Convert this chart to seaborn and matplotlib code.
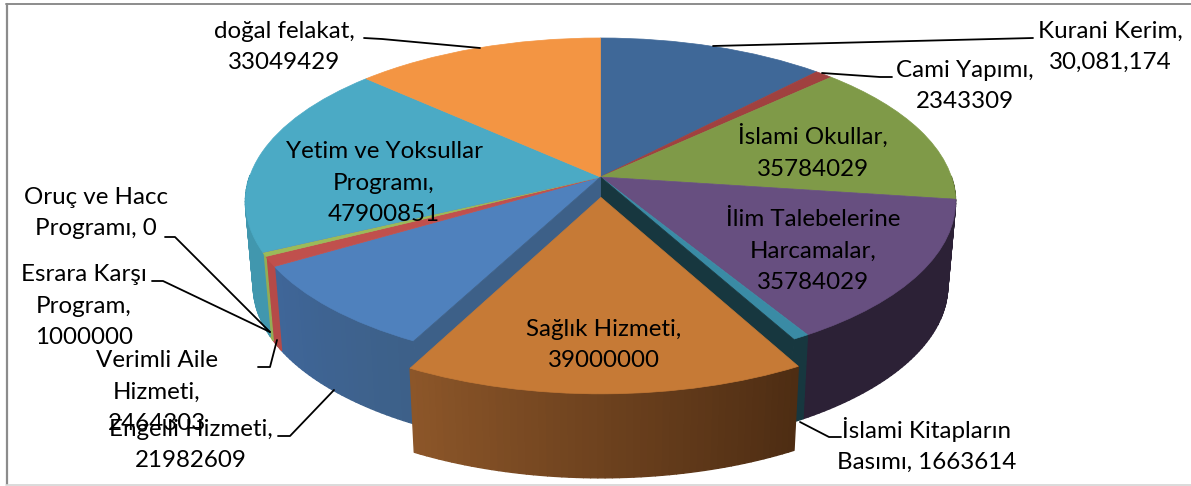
import numpy as np
import seaborn as sns
import matplotlib.pyplot as plt
from matplotlib.collections import PolyCollection
from matplotlib.transforms import Transform

categories = ['Kurani Kerim', 'Cami Yapımı', 'İslami Okullar', 'İlim Talebelerine Harcamalar',
              'İslami Kitapların Basımı', 'Sağlık Hizmeti', 'Engelli Hizmeti', 'Verimli Aile Hizmeti',
              'Esrara Karşı Program', 'Oruç ve Hacc Programı', 'Yetim ve Yoksullar Programı', 'doğal felakat']
values = [30081174, 2343309, 35784029, 35784029, 1663614, 39000000,
          21982609, 2464303, 1000000, 0, 47900851, 33049429]
value_labels = ['Kurani Kerim,\n30,081,174', 'Cami Yapımı,\n2343309', 'İslami Okullar,\n35784029',
                'İlim Talebelerine\nHarcamalar,\n35784029', 'İslami Kitapların\nBasımı, 1663614',
                'Sağlık Hizmeti,\n39000000', 'Engelli Hizmeti,\n21982609', 'Verimli Aile\nHizmeti,\n2464303',
                'Esrara Karşı\nProgram,\n1000000', 'Oruç ve Hacc\nProgramı, 0',
                'Yetim ve Yoksullar\nProgramı,\n47900851', 'doğal felakat,\n33049429']
exploded = [0, 0, 0, 0, 0, 0.125, 0, 0, 0, 0, 0, 0]

top_colors = ['#3f6898', '#a0413f', '#7f9a48', '#674f80', '#3a8ba5', '#c67a36',
              '#4f81bd', '#c0504d', '#9bbb59', '#8064a2', '#4baac5', '#f39543']
wall_left = ['#2f4d72', '#7a302f', '#4f5f2d', '#2c2136', '#17373f', '#8c5629',
             '#3f6699', '#b54a48', '#93ad55', '#5d4a78', '#4197ae', '#b06c30']
wall_right = ['#2f4d72', '#7a302f', '#4f5f2d', '#2c2136', '#17373f', '#4e2d13',
              '#3d6088', '#b54a48', '#93ad55', '#5d4a78', '#4197ae', '#b06c30']

# label centres and leader lines, in picture pixels
label_x = [1110, 965, 813, 813, 927, 604, 191, 157, 84, 96, 384, 284]
label_y = [47, 86, 152, 251, 445, 345, 445, 392, 306, 213, 183, 47]
leaders = [[(713, 46), (1033, 38)],
           [(822, 73), (880, 77), (892, 77)],
           None,
           None,
           [(800, 422), (829, 437), (841, 437)],
           None,
           [(334, 390), (290, 436), (278, 436)],
           [(277, 340), (270, 367), (258, 367)],
           [(270, 332), (163, 281), (152, 281)],
           [(270, 332), (175, 237), (165, 237)],
           None,
           [(480, 48), (382, 39), (364, 38)]]

# projection of the flat pie onto the tilted view
CX, CY = 600.5, 177
SCALE_X, SCALE_Y = 351, 160
TILT = 0.151
DEPTH = 84
SHRINK = 0.022


def project(u, v, z=0.0):
    u, v = np.asarray(u, float), np.asarray(v, float)
    w = 1 + TILT * v
    return CX + SCALE_X * u / w * (1 - SHRINK * z), CY - SCALE_Y * v / w + DEPTH * z


class TiltTransform(Transform):
    input_dims = 2
    output_dims = 2

    def transform_non_affine(self, values):
        values = np.asarray(values, float)
        x, y = project(values[:, 0], values[:, 1])
        return np.column_stack([x, y])


def rim(wedge, angle):
    return (wedge.center[0] + wedge.r * np.cos(np.radians(angle)),
            wedge.center[1] + wedge.r * np.sin(np.radians(angle)))


def draw_wall(ax, wedge, left, right, zorder):
    """Outer wall of one slice, as thin strips shaded from left to right."""
    angles = np.arange(wedge.theta1, wedge.theta2, 1.0)
    angles = np.append(angles, wedge.theta2)
    angles = angles[np.sin(np.radians(angles)) < 0.02]
    if len(angles) < 2:
        return
    shades = sns.blend_palette([left, right], len(angles) - 1)
    quads = []
    for a, b in zip(angles[:-1], angles[1:]):
        ua, va = rim(wedge, a)
        ub, vb = rim(wedge, b)
        xy = [project(ua, va), project(ub, vb), project(ub, vb, 1), project(ua, va, 1)]
        quads.append(xy)
    ax.add_collection(PolyCollection(quads, facecolors=shades, edgecolors=shades,
                                     linewidths=1.0, zorder=zorder))


def draw_cut(ax, wedge, angle, color, zorder):
    """Flat cut face of a slice, seen through the gap of the pulled-out slice."""
    u, v = rim(wedge, angle)
    cu, cv = wedge.center
    pts = [project(cu, cv), project(u, v), project(u, v, 1), project(cu, cv, 1)]
    ax.fill([p[0] for p in pts], [p[1] for p in pts], color=color, lw=0.5, zorder=zorder)


sns.set_theme(style='white')
plt.rcParams['font.family'] = ['Lato', 'DejaVu Sans']

fig = plt.figure(figsize=(11.91, 4.86), dpi=100)
ax = fig.add_axes([0, 0, 1, 1])

wedges, _ = ax.pie(values, explode=exploded, colors=top_colors, startangle=90,
                   counterclock=False, radius=1)
ax.set_aspect('auto')
ax.set_xlim(0, 1191)
ax.set_ylim(486, 0)
ax.axis('off')

tilt = TiltTransform()
pulled = int(np.argmax(exploded))
for i, wedge in enumerate(wedges):
    wedge.set_transform(tilt + ax.transData)
    wedge.set_edgecolor(top_colors[i])
    wedge.set_linewidth(0.5)
    wedge.set_zorder(5 if i == pulled else 2)
    draw_wall(ax, wedge, wall_left[i], wall_right[i], 4 if i == pulled else 1)

# faces next to the gap: end of the slice before, start of the slice after
before, after = wedges[pulled - 1], wedges[pulled + 1]
draw_cut(ax, before, before.theta1, wall_left[pulled - 1], 3)
draw_cut(ax, after, after.theta2, '#3d6088', 3)

for i, text in enumerate(value_labels):
    ax.text(label_x[i], label_y[i], text, ha='center', va='center', fontsize=17.4,
            color='black', linespacing=1.62, zorder=8)
    if leaders[i] is not None:
        ax.plot([p[0] for p in leaders[i]], [p[1] for p in leaders[i]],
                color='black', lw=1.3, zorder=7)

# picture frame
ax.plot([6.5, 6.5], [4, 484], color='#8c8c8c', lw=1.6, zorder=9)
ax.plot([6, 1191], [4, 4], color='#8c8c8c', lw=1.4, zorder=9)
ax.plot([6, 1191], [484.5, 484.5], color='#d4d4d4', lw=1.2, zorder=9)

fig.savefig('out.png', dpi=100)
